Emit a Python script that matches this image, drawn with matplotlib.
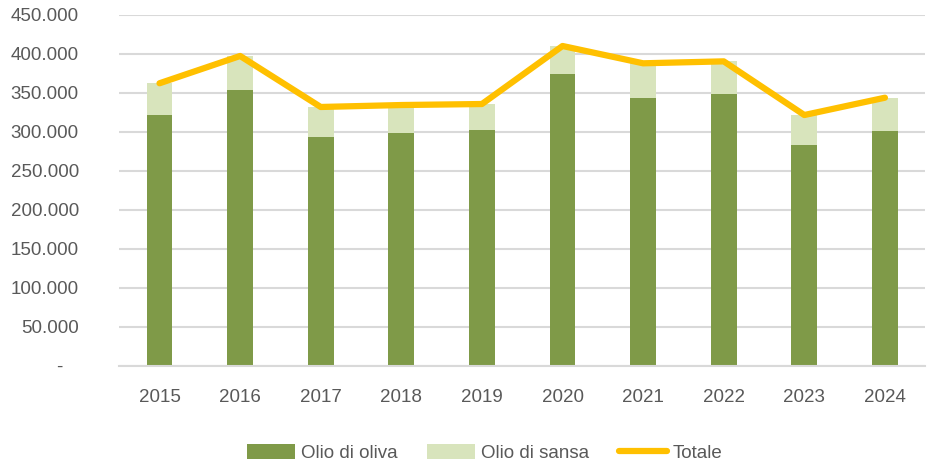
import numpy as np
import matplotlib.pyplot as plt
from matplotlib.ticker import FuncFormatter

# data (tonnes)
anni = ['2015', '2016', '2017', '2018', '2019', '2020', '2021', '2022', '2023', '2024']
oliva = [321400, 353500, 293200, 297900, 302200, 374400, 342800, 348700, 282900, 300900]
sansa = [40700, 43600, 38500, 36300, 33300, 35500, 44900, 41500, 38500, 42700]
totale = [o + s for o, s in zip(oliva, sansa)]

plt.rcParams['font.family'] = ['Liberation Sans', 'DejaVu Sans']
grey = '#595959'

fig = plt.figure(figsize=(9.27, 4.76), dpi=100)
ax = fig.add_axes([0.1286, 0.2317, 0.8695, 0.7374])

x = np.arange(len(anni))
w = 0.32
b1 = ax.bar(x, oliva, w, color='#7f9a48', label='Olio di oliva', zorder=2)
b2 = ax.bar(x, sansa, w, bottom=oliva, color='#d8e4bc', label='Olio di sansa', zorder=2)
l1, = ax.plot(x, totale, color='#ffc000', lw=4.5, solid_capstyle='round', label='Totale', zorder=3)

ax.set_xlim(-0.5, len(anni) - 0.5)
ax.set_ylim(0, 450000)
ax.set_yticks(np.arange(0, 450001, 50000))
ax.yaxis.set_major_formatter(FuncFormatter(
    lambda v, p: '-   ' if v == 0 else f'{int(v):,}'.replace(',', '.')))
ax.set_xticks(x)
ax.set_xticklabels(anni)
ax.grid(axis='y', color='#d9d9d9', lw=1.5, zorder=0)
for s in ['top', 'right', 'left']:
    ax.spines[s].set_visible(False)
ax.spines['bottom'].set_color('#d9d9d9')
ax.spines['bottom'].set_linewidth(1.5)
ax.tick_params(length=0, labelsize=13.5, colors=grey)
ax.tick_params(axis='x', pad=17)
ax.tick_params(axis='y', pad=29)

leg = fig.legend([b1, b2, l1], ['Olio di oliva', 'Olio di sansa', 'Totale'],
                 loc='center', bbox_to_anchor=(0.523, 0.048), ncol=3, frameon=False,
                 fontsize=13.5, handlelength=2.56, handleheight=0.8, columnspacing=1.6,
                 handletextpad=0.3)
for t in leg.get_texts():
    t.set_color(grey)

fig.savefig('out.png', dpi=100)
